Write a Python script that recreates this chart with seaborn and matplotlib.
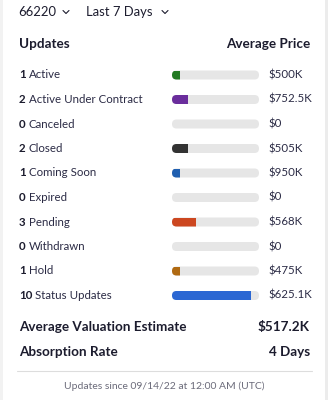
import matplotlib
matplotlib.use("Agg")
import matplotlib.pyplot as plt
from matplotlib.patches import FancyBboxPatch, Rectangle
from matplotlib.lines import Line2D
import seaborn as sns
import pandas as pd

# ---- data ----
zip_code = "66220"
period = "Last 7 Days"
statuses = ["Active", "Active Under Contract", "Canceled", "Closed", "Coming Soon",
            "Expired", "Pending", "Withdrawn", "Hold", "Status Updates"]
counts = [1, 2, 0, 2, 1, 0, 3, 0, 1, 10]
avg_prices = ["$500K", "$752.5K", "$0", "$505K", "$950K",
              "$0", "$568K", "$0", "$475K", "$625.1K"]
bar_colors = ["#237a23", "#6a2d9c", "#616161", "#333333", "#1f5fb0",
              "#616161", "#cc4720", "#616161", "#b06a12", "#2b67d3"]
track_max = 11
summary_labels = ["Average Valuation Estimate", "Absorption Rate"]
summary_values = ["$517.2K", "4 Days"]
footer = "Updates since 09/14/22 at 12:00 AM (UTC)"

W, H = 328, 400
sns.set_theme(style="white")
plt.rcParams["font.family"] = ["Lato", "DejaVu Sans"]

fig = plt.figure(figsize=(W / 100, H / 100), dpi=100)
fig.patch.set_facecolor("white")


def fx(x):
    return x / W


def fy(y):
    return 1 - y / H


ink = "#1c1c2e"
label_ink = "#2b2b45"

# card edges
fig.patches.append(Rectangle((0, 0), fx(3), 1, transform=fig.transFigure,
                             facecolor="#f2f2f2", edgecolor="none"))
fig.patches.append(Rectangle((fx(325), 0), fx(3), 1, transform=fig.transFigure,
                             facecolor="#ececec", edgecolor="none"))

# header selectors
fig.text(fx(18), fy(12), zip_code, fontsize=9.4, color=ink, va="center", ha="left")
fig.text(fx(86), fy(12), period, fontsize=9.4, color=ink, va="center", ha="left")


def chevron(cx, cy):
    xs = [fx(cx - 3), fx(cx), fx(cx + 3)]
    ys = [fy(cy - 1.5), fy(cy + 1.5), fy(cy - 1.5)]
    fig.add_artist(Line2D(xs, ys, transform=fig.transFigure, color=ink, lw=0.8))


chevron(66, 12)
chevron(165, 12)

head_fs = 9.7
fig.text(fx(19), fy(44), "Updates", fontsize=head_fs, fontweight="bold", color=ink,
         va="center", ha="left")
fig.text(fx(310), fy(44), "Average Price", fontsize=head_fs, fontweight="bold",
         color=ink, va="center", ha="right")

# ---- bar axes ----
row0, step = 75, 24.5
n = len(statuses)
top_px = row0 - step / 2
bot_px = row0 + step * (n - 1) + step / 2
x0_px, x1_px = 172, 259
ax = fig.add_axes([fx(x0_px), fy(bot_px), fx(x1_px - x0_px), (bot_px - top_px) / H])

df = pd.DataFrame({"status": statuses, "count": counts})
bar_h = 9 / step
sns.barplot(data=df, y="status", x="count", hue="status",
            palette=dict(zip(statuses, bar_colors)), order=statuses,
            hue_order=statuses, orient="h", width=bar_h, legend=False, ax=ax,
            saturation=1)
ax.set_xlim(0, track_max)
ax.set_ylim(n - 0.5, -0.5)
ax.axis("off")

xunit_per_px = track_max / (x1_px - x0_px)
yunit_per_px = 1 / step
aspect = yunit_per_px / xunit_per_px
radius = 4.5 * xunit_per_px

for bar in list(ax.patches):
    y = bar.get_y()
    h = bar.get_height()
    track = FancyBboxPatch((0, y), track_max, h,
                           boxstyle=f"round,pad=0,rounding_size={radius}",
                           mutation_aspect=aspect, facecolor="#e6e6e6",
                           edgecolor="none", zorder=1)
    ax.add_patch(track)
    bar.set_zorder(2)
    bar.set_edgecolor("none")
    bar.set_clip_path(track)

# ---- row text ----
row_fs = 8.3
fig.canvas.draw()
renderer = fig.canvas.get_renderer()
for i, (c, s, p) in enumerate(zip(counts, statuses, avg_prices)):
    y = row0 + i * step
    t = fig.text(fx(19), fy(y), str(c), fontsize=row_fs, fontweight="bold", color=ink,
                 va="center", ha="left")
    bb = t.get_window_extent(renderer=renderer)
    fig.text((bb.x1 + 3) / W, fy(y), s, fontsize=row_fs, color=label_ink,
             va="center", ha="left")
    fig.text(fx(268), fy(y), p, fontsize=row_fs, color=label_ink, va="center", ha="left")

# ---- summary ----
for i, (lab, val) in enumerate(zip(summary_labels, summary_values)):
    y = 327 + i * 25
    fig.text(fx(19), fy(y), lab, fontsize=head_fs, fontweight="bold", color=ink,
             va="center", ha="left")
    fig.text(fx(310), fy(y), val, fontsize=head_fs, fontweight="bold", color=ink,
             va="center", ha="right")

fig.add_artist(Line2D([fx(17), fx(312)], [fy(370.5), fy(370.5)],
                      transform=fig.transFigure, color="#dddddd", lw=0.8))
fig.text(fx(164), fy(386), footer, fontsize=7.5, color="#6b6b7a",
         va="center", ha="center")

fig.savefig("out.png", dpi=100, facecolor="white")
